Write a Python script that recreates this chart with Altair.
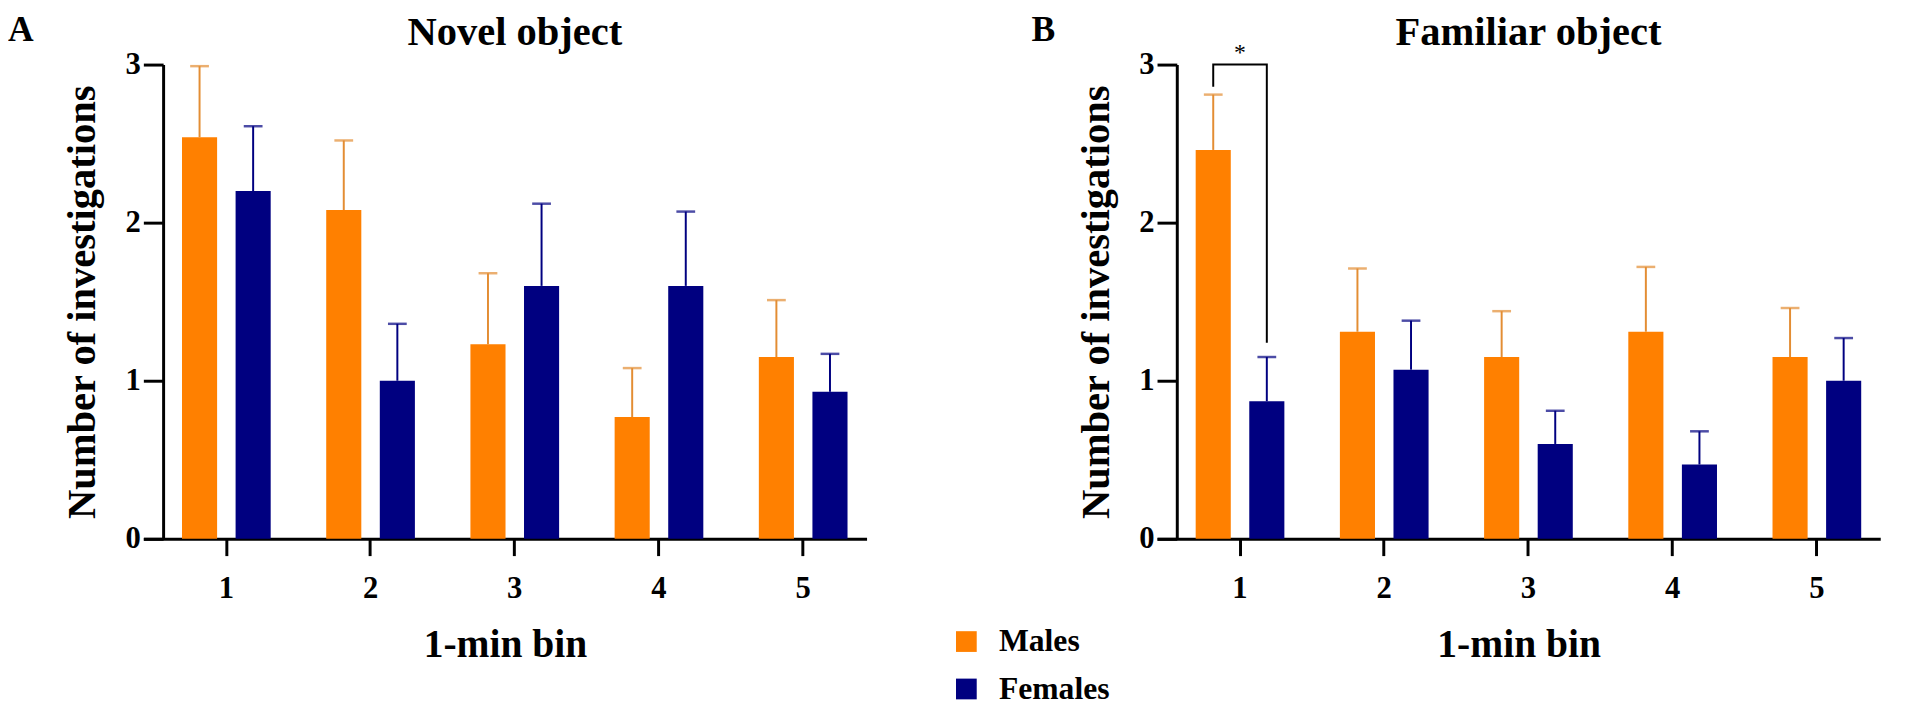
import altair as alt
import pandas as pd

bins = ["1", "2", "3", "4", "5"]
sexes = ["Males", "Females"]

# Novel object (panel A): means and top of SEM error bars
novel_males = [2.54, 2.08, 1.23, 0.77, 1.15]
novel_males_err = [2.99, 2.52, 1.68, 1.08, 1.51]
novel_females = [2.20, 1.00, 1.60, 1.60, 0.93]
novel_females_err = [2.61, 1.36, 2.12, 2.07, 1.17]

# Familiar object (panel B)
fam_males = [2.46, 1.31, 1.15, 1.31, 1.15]
fam_males_err = [2.81, 1.71, 1.44, 1.72, 1.46]
fam_females = [0.87, 1.07, 0.60, 0.47, 1.00]
fam_females_err = [1.15, 1.38, 0.81, 0.68, 1.27]

# significance bracket (panel B, bin 1)
bracket_sex = ["Males", "Males", "Females", "Females"]
bracket_y = [2.86, 3.0, 3.0, 1.24]

ORANGE = "#FF8000"
NAVY = "#000080"
ERR_M = "#E38D33"
ERR_F = "#000080"
FONT = "Liberation Serif"

W = 712
H = 480

xscale = alt.Scale(domain=bins, range=[-20, W], paddingInner=0.385,
                   paddingOuter=0.2, align=0.67)
xaxis = alt.Axis(title="1-min bin", labelAngle=0)
yscale = alt.Scale(domain=[0, 3], nice=False)
yaxis = alt.Axis(values=[0, 1, 2, 3], format="d", title="Number of investigations")
xo = alt.XOffset("sex:N", scale=alt.Scale(domain=sexes, paddingInner=0.345, paddingOuter=0))


def panel(mm, me, fm, fe, title, letter, letter_x, extra=None):
    df = pd.DataFrame({
        "bin": bins * 2,
        "sex": ["Males"] * 5 + ["Females"] * 5,
        "mean": mm + fm,
        "err": me + fe,
    })
    base = alt.Chart(df)
    bars = base.mark_bar().encode(
        x=alt.X("bin:N", scale=xscale, axis=xaxis),
        xOffset=xo,
        y=alt.Y("mean:Q", scale=yscale, axis=yaxis),
        color=alt.Color("sex:N", scale=alt.Scale(domain=sexes, range=[ORANGE, NAVY]),
                        legend=alt.Legend(title=None, orient="none", legendX=797, legendY=568,
                                          symbolType="square", symbolSize=441,
                                          symbolStrokeWidth=0, labelFontSize=32,
                                          labelFont=FONT, labelFontWeight="bold",
                                          labelColor="black", rowPadding=16,
                                          labelOffset=17, padding=0)),
    )
    errcol = alt.condition(alt.datum.sex == "Males", alt.value(ERR_M), alt.value(ERR_F))
    rules = base.mark_rule(strokeWidth=2).encode(
        x=alt.X("bin:N", scale=xscale, axis=xaxis),
        xOffset=xo,
        y=alt.Y("mean:Q", scale=yscale, axis=yaxis),
        y2="err:Q",
        color=errcol,
    )
    caps = base.mark_tick(size=19, thickness=2.5).encode(
        x=alt.X("bin:N", scale=xscale, axis=xaxis),
        xOffset=xo,
        y=alt.Y("err:Q", scale=yscale, axis=yaxis),
        color=errcol,
    )
    texts = alt.Chart(pd.DataFrame({"t": [letter]})).mark_text(
        font=FONT, fontWeight="bold", fontSize=36, align="center", baseline="top",
        color="black"
    ).encode(text="t:N", x=alt.value(letter_x), y=alt.value(-52))
    ttl = alt.Chart(pd.DataFrame({"t": [title]})).mark_text(
        font=FONT, fontWeight="bold", fontSize=41, align="center", baseline="top",
        color="black"
    ).encode(text="t:N", x=alt.value(W / 2), y=alt.value(-52))

    layers = [bars, rules, caps, texts, ttl]
    if extra is not None:
        layers += extra
    return alt.layer(*layers).properties(width=W, height=H)


bdf = pd.DataFrame({"bin": ["1"] * 4, "sex": bracket_sex, "y": bracket_y, "o": [0, 1, 2, 3]})
bracket = alt.Chart(bdf).mark_line(color="black", strokeWidth=2).encode(
    x=alt.X("bin:N", scale=xscale, axis=xaxis),
    xOffset=xo,
    y=alt.Y("y:Q", scale=yscale, axis=yaxis),
    order="o:Q",
)
star = alt.Chart(pd.DataFrame({"bin": ["1"], "y": [3.0], "t": ["*"]})).mark_text(
    font=FONT, fontSize=24, dy=-12, baseline="middle", color="black"
).encode(x=alt.X("bin:N", scale=xscale, axis=xaxis),
         y=alt.Y("y:Q", scale=yscale, axis=yaxis), text="t:N")

pA = panel(novel_males, novel_males_err, novel_females, novel_females_err,
           "Novel object", "A", -144)
pB = panel(fam_males, fam_males_err, fam_females, fam_females_err,
           "Familiar object", "B", -135, extra=[bracket, star])

chart = alt.hconcat(pA, pB, spacing=146).properties(padding=0).configure_view(
    stroke=None
).configure_axis(
    labelFont=FONT, titleFont=FONT, labelFontWeight="bold", titleFontWeight="bold",
    labelColor="black", titleColor="black", domainColor="black", tickColor="black",
    domainWidth=3, tickWidth=3, grid=False, labelFontSize=31, titleFontSize=40,
).configure_axisX(
    tickSize=17, labelPadding=18, titlePadding=22,
).configure_axisY(
    tickSize=20, labelPadding=3, titlePadding=22, titleFontSize=41,
)

chart.save("out.html", embed_options={"renderer": "svg", "actions": False})
